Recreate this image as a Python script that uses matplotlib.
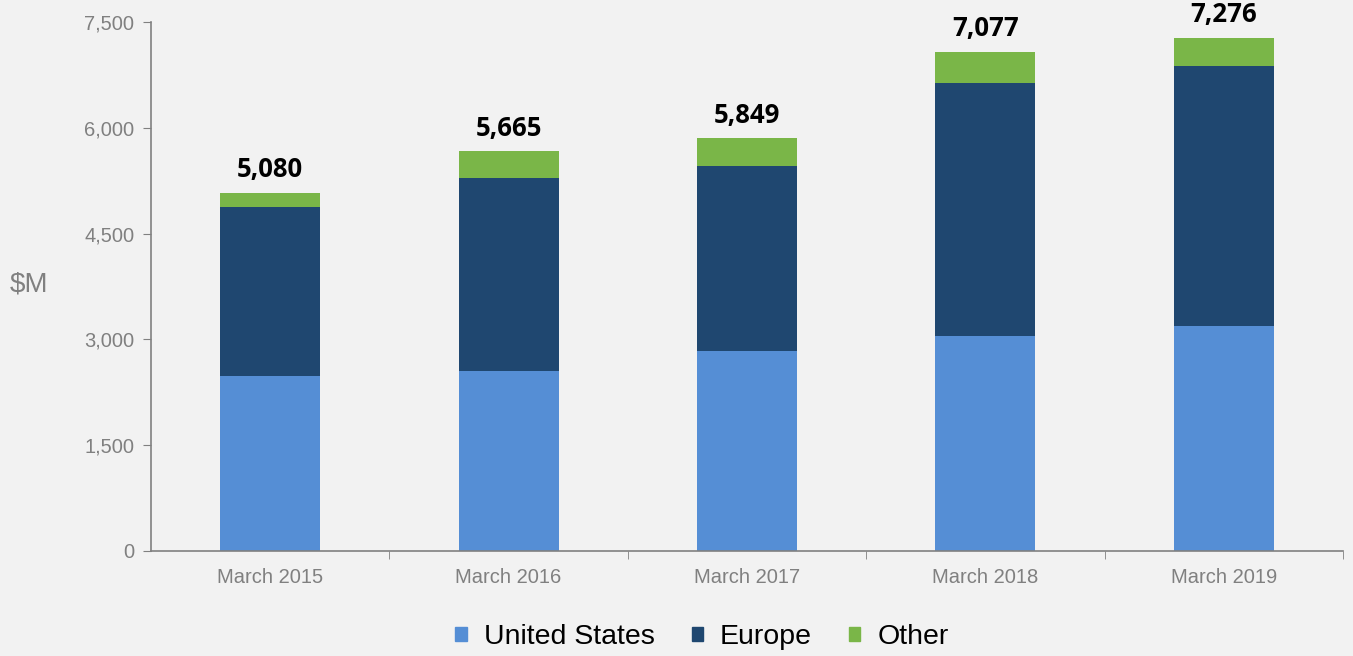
import matplotlib
matplotlib.use("Agg")
import matplotlib.pyplot as plt
from matplotlib.patches import Patch
import numpy as np

categories = ["March 2015", "March 2016", "March 2017", "March 2018", "March 2019"]
us = [2480, 2550, 2840, 3050, 3190]
europe = [2400, 2740, 2620, 3590, 3690]
totals = [5080, 5665, 5849, 7077, 7276]
other = [t - u - e for t, u, e in zip(totals, us, europe)]
yticks = [0, 1500, 3000, 4500, 6000, 7500]

bg = "#F2F2F2"
c_us = "#558ED5"
c_eu = "#1F4770"
c_ot = "#7AB648"
gray = "#808080"

fig = plt.figure(figsize=(13.53, 6.56), dpi=100, facecolor=bg)
ax = fig.add_axes([151/1353, 1-551/656, (1343-151)/1353, (551-22)/656])
ax.set_facecolor(bg)

x = np.arange(len(categories))
w = 0.42
ax.bar(x, us, w, color=c_us, label="United States")
ax.bar(x, europe, w, bottom=us, color=c_eu, label="Europe")
bot2 = [u + e for u, e in zip(us, europe)]
ax.bar(x, other, w, bottom=bot2, color=c_ot, label="Other")

for xi, t in zip(x, totals):
    ax.annotate(f"{t:,}", (xi, t), xytext=(0, 7), textcoords="offset points",
                ha="center", va="bottom", fontsize=18.5, fontweight="bold",
                family="Open Sans", color="black")

ax.set_xlim(-0.5, len(categories) - 0.5)
ax.set_ylim(0, 7500)
ax.set_yticks(yticks)
ax.set_yticklabels([f"{v:,}" for v in yticks], fontsize=14.5, color=gray, family="Liberation Sans")
ax.set_xticks(x)
ax.set_xticklabels(categories, fontsize=14.5, color=gray, family="Liberation Sans")
ax.tick_params(axis="x", length=0, pad=12)
ax.set_xticks(np.arange(len(categories)) + 0.5, minor=True)
ax.tick_params(axis="x", which="minor", length=6, color=gray, direction="out")
ax.tick_params(axis="y", length=6, color=gray, direction="out", pad=6)

for s in ["top", "right"]:
    ax.spines[s].set_visible(False)
for s in ["left", "bottom"]:
    ax.spines[s].set_color(gray)
    ax.spines[s].set_linewidth(1.2)

fig.text(10/1353, 1-285/656, "$M", fontsize=20, color=gray, family="Liberation Sans",
         ha="left", va="center")

handles = [Patch(color=c_us, label="United States"),
           Patch(color=c_eu, label="Europe"),
           Patch(color=c_ot, label="Other")]
fig.legend(handles=handles, loc="center", bbox_to_anchor=(702/1353, 1-637/656),
           ncol=3, frameon=False, prop={"family": "Liberation Sans", "size": 20.5},
           handlelength=0.4, handleheight=0.4, handletextpad=0.6, columnspacing=1.3)

fig.savefig("out.png", dpi=100, facecolor=bg)
